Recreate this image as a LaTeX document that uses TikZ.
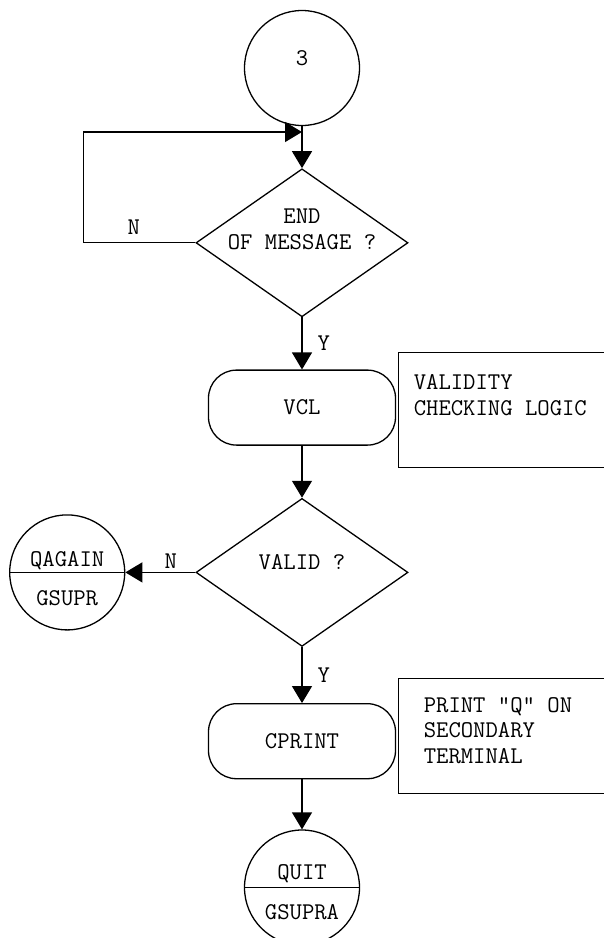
\documentclass[tikz,border=0pt]{standalone}
\usepackage{tikz}
\usetikzlibrary{arrows.meta, positioning, shapes.geometric}

\begin{document}
\begin{tikzpicture}[
            x=1pt, y=-1pt,
            font=\ttfamily\fontsize{24}{25.5}\selectfont,
            line width=1.3pt,
            conn/.style={circle, draw, minimum size=115pt, inner sep=0pt},
            decision/.style={diamond, draw, minimum width=212pt, minimum height=148pt, inner sep=0pt},
            proc/.style={rectangle, draw, rounded corners=28pt, minimum width=187pt, minimum height=75pt},
            note/.style={rectangle, draw, anchor=north west, minimum width=240pt, minimum height=115pt},
            notetext/.style={anchor=north west, align=left, inner sep=0pt},
            arrow/.style={-{Triangle[length=17pt, width=20pt]}},
            flag/.style={inner sep=3pt}
        ]
            \useasboundingbox (0,0) rectangle (604,938);

            % main column
            \node[conn] (start) at (302,68) {};
            \node (start_txt) at ([yshift=9.5pt]start.center) {3};
            \node[decision, below=42pt of start] (eom) {};
            \node[align=center, anchor=north, inner sep=0pt] (eom_txt) at ([yshift=34.5pt]eom.center) {END\\OF MESSAGE ?};
            \node[proc, below=52pt of eom] (vcl) {VCL};
            \node[decision, below=52pt of vcl] (valid) {};
            \node[anchor=north, inner sep=0pt] (valid_txt) at ([yshift=18.5pt]valid.center) {VALID ?};
            \node[proc, below=56pt of valid] (cprint) {CPRINT};
            \node[conn, below=50pt of cprint] (quit) {};
            \draw (quit.west) -- (quit.east);
            \node[anchor=base] (quit_top) at ([yshift=8pt]quit.center) {QUIT};
            \node[anchor=base] (quit_bot) at ([yshift=-32pt]quit.center) {GSUPRA};

            % exit on invalid message
            \node[conn, left=70pt of valid] (qagain) {};
            \draw (qagain.west) -- (qagain.east);
            \node[anchor=base] (qagain_top) at ([yshift=5.5pt]qagain.center) {QAGAIN};
            \node[anchor=base] (qagain_bot) at ([yshift=-33.5pt]qagain.center) {GSUPR};

            % side notes
            \node[note] (vcl_note) at ([xshift=2pt, yshift=17.5pt]vcl.north east) {};
            \node[notetext] (vcl_note_txt) at ([xshift=15pt, yshift=-22pt]vcl_note.north west) {VALIDITY\\CHECKING LOGIC};
            \node[note] (cprint_note) at ([xshift=2pt, yshift=25.5pt]cprint.north east) {};
            \node[notetext] (cprint_note_txt) at ([xshift=25pt, yshift=-19pt]cprint_note.north west) {PRINT "Q" ON\\SECONDARY\\TERMINAL};

            % connectors
            \coordinate (back) at (start.south |- 0,132);
            \draw[arrow] (start) -- (eom);
            \draw[arrow] (eom.west) -- node[flag, above=5pt, pos=0.55] {N} ++(-112,0) |- (back);
            \draw[arrow] (eom) -- node[flag, right=12pt] {Y} (vcl);
            \draw[arrow] (vcl) -- (valid);
            \draw[arrow] (valid) -- node[flag, above, pos=0.35] {N} (qagain);
            \draw[arrow] (valid) -- node[flag, right=12pt] {Y} (cprint);
            \draw[arrow] (cprint) -- (quit);
        \end{tikzpicture}
\end{document}
